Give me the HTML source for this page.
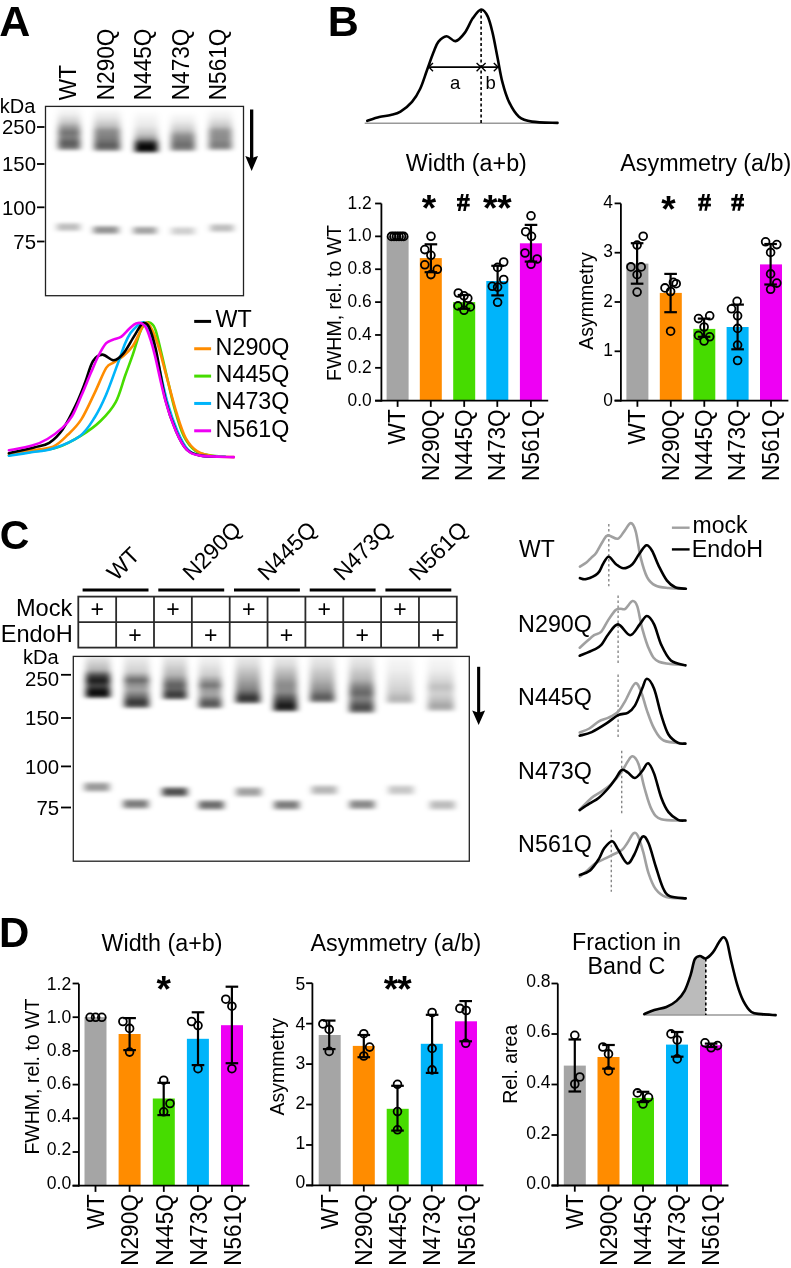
<!DOCTYPE html>
<html><head><meta charset="utf-8"><style>
html,body{margin:0;padding:0;background:#fff;width:791px;height:1268px;overflow:hidden}
svg{display:block;will-change:transform;font-family:"Liberation Sans", sans-serif}
</style></head><body>
<svg width="791" height="1268" viewBox="0 0 791 1268">
<defs>
<filter id="b12" x="-50%" y="-50%" width="200%" height="200%"><feGaussianBlur stdDeviation="1.2"/></filter>
<filter id="b16" x="-50%" y="-50%" width="200%" height="200%"><feGaussianBlur stdDeviation="1.6"/></filter>
<filter id="b25" x="-50%" y="-50%" width="200%" height="200%"><feGaussianBlur stdDeviation="2.5"/></filter>
<linearGradient id="g0" x1="0" y1="0" x2="0" y2="1"><stop offset="0.0000" stop-color="#000" stop-opacity="0"/><stop offset="0.1739" stop-color="#000" stop-opacity="0.06"/><stop offset="0.3478" stop-color="#000" stop-opacity="0.2"/><stop offset="0.4783" stop-color="#000" stop-opacity="0.42"/><stop offset="0.5761" stop-color="#000" stop-opacity="0.55"/><stop offset="0.6739" stop-color="#000" stop-opacity="0.5"/><stop offset="0.8152" stop-color="#000" stop-opacity="0.65"/><stop offset="0.9130" stop-color="#000" stop-opacity="0.55"/><stop offset="0.9783" stop-color="#000" stop-opacity="0.05"/><stop offset="1.0000" stop-color="#000" stop-opacity="0"/></linearGradient><linearGradient id="g1" x1="0" y1="0" x2="0" y2="1"><stop offset="0.0000" stop-color="#000" stop-opacity="0"/><stop offset="0.2222" stop-color="#000" stop-opacity="0.1"/><stop offset="0.4000" stop-color="#000" stop-opacity="0.25"/><stop offset="0.5111" stop-color="#000" stop-opacity="0.45"/><stop offset="0.6444" stop-color="#000" stop-opacity="0.5"/><stop offset="0.7333" stop-color="#000" stop-opacity="0.55"/><stop offset="0.8333" stop-color="#000" stop-opacity="0.65"/><stop offset="0.9111" stop-color="#000" stop-opacity="0.55"/><stop offset="0.9778" stop-color="#000" stop-opacity="0.05"/><stop offset="1.0000" stop-color="#000" stop-opacity="0"/></linearGradient><linearGradient id="g2" x1="0" y1="0" x2="0" y2="1"><stop offset="0.0000" stop-color="#000" stop-opacity="0"/><stop offset="0.3371" stop-color="#000" stop-opacity="0.08"/><stop offset="0.5393" stop-color="#000" stop-opacity="0.22"/><stop offset="0.6517" stop-color="#000" stop-opacity="0.42"/><stop offset="0.7416" stop-color="#000" stop-opacity="0.85"/><stop offset="0.8315" stop-color="#000" stop-opacity="1.0"/><stop offset="0.9101" stop-color="#000" stop-opacity="0.92"/><stop offset="0.9775" stop-color="#000" stop-opacity="0.1"/><stop offset="1.0000" stop-color="#000" stop-opacity="0"/></linearGradient><linearGradient id="g3" x1="0" y1="0" x2="0" y2="1"><stop offset="0.0000" stop-color="#000" stop-opacity="0"/><stop offset="0.2439" stop-color="#000" stop-opacity="0.08"/><stop offset="0.4390" stop-color="#000" stop-opacity="0.22"/><stop offset="0.5854" stop-color="#000" stop-opacity="0.45"/><stop offset="0.6829" stop-color="#000" stop-opacity="0.5"/><stop offset="0.8049" stop-color="#000" stop-opacity="0.58"/><stop offset="0.9024" stop-color="#000" stop-opacity="0.5"/><stop offset="0.9756" stop-color="#000" stop-opacity="0.05"/><stop offset="1.0000" stop-color="#000" stop-opacity="0"/></linearGradient><linearGradient id="g4" x1="0" y1="0" x2="0" y2="1"><stop offset="0.0000" stop-color="#000" stop-opacity="0"/><stop offset="0.2273" stop-color="#000" stop-opacity="0.08"/><stop offset="0.4091" stop-color="#000" stop-opacity="0.22"/><stop offset="0.5227" stop-color="#000" stop-opacity="0.42"/><stop offset="0.6364" stop-color="#000" stop-opacity="0.45"/><stop offset="0.7273" stop-color="#000" stop-opacity="0.45"/><stop offset="0.8409" stop-color="#000" stop-opacity="0.52"/><stop offset="0.9091" stop-color="#000" stop-opacity="0.45"/><stop offset="0.9773" stop-color="#000" stop-opacity="0.05"/><stop offset="1.0000" stop-color="#000" stop-opacity="0"/></linearGradient><linearGradient id="g5" x1="0" y1="0" x2="0" y2="1"><stop offset="0.0000" stop-color="#000" stop-opacity="0"/><stop offset="0.2500" stop-color="#000" stop-opacity="0.2295"/><stop offset="0.5000" stop-color="#000" stop-opacity="0.27"/><stop offset="0.7500" stop-color="#000" stop-opacity="0.2295"/><stop offset="1.0000" stop-color="#000" stop-opacity="0"/></linearGradient><linearGradient id="g6" x1="0" y1="0" x2="0" y2="1"><stop offset="0.0000" stop-color="#000" stop-opacity="0"/><stop offset="0.2500" stop-color="#000" stop-opacity="0.3825"/><stop offset="0.5000" stop-color="#000" stop-opacity="0.45"/><stop offset="0.7500" stop-color="#000" stop-opacity="0.3825"/><stop offset="1.0000" stop-color="#000" stop-opacity="0"/></linearGradient><linearGradient id="g7" x1="0" y1="0" x2="0" y2="1"><stop offset="0.0000" stop-color="#000" stop-opacity="0"/><stop offset="0.2500" stop-color="#000" stop-opacity="0.323"/><stop offset="0.5000" stop-color="#000" stop-opacity="0.38"/><stop offset="0.7500" stop-color="#000" stop-opacity="0.323"/><stop offset="1.0000" stop-color="#000" stop-opacity="0"/></linearGradient><linearGradient id="g8" x1="0" y1="0" x2="0" y2="1"><stop offset="0.0000" stop-color="#000" stop-opacity="0"/><stop offset="0.2500" stop-color="#000" stop-opacity="0.17"/><stop offset="0.5000" stop-color="#000" stop-opacity="0.2"/><stop offset="0.7500" stop-color="#000" stop-opacity="0.17"/><stop offset="1.0000" stop-color="#000" stop-opacity="0"/></linearGradient><linearGradient id="g9" x1="0" y1="0" x2="0" y2="1"><stop offset="0.0000" stop-color="#000" stop-opacity="0"/><stop offset="0.2500" stop-color="#000" stop-opacity="0.2295"/><stop offset="0.5000" stop-color="#000" stop-opacity="0.27"/><stop offset="0.7500" stop-color="#000" stop-opacity="0.2295"/><stop offset="1.0000" stop-color="#000" stop-opacity="0"/></linearGradient><linearGradient id="g10" x1="0" y1="0" x2="0" y2="1"><stop offset="0.0000" stop-color="#000" stop-opacity="0.098"/><stop offset="0.1163" stop-color="#000" stop-opacity="0.163"/><stop offset="0.3023" stop-color="#000" stop-opacity="0.293"/><stop offset="0.4419" stop-color="#000" stop-opacity="0.75"/><stop offset="0.5465" stop-color="#000" stop-opacity="0.9"/><stop offset="0.6744" stop-color="#000" stop-opacity="0.72"/><stop offset="0.8140" stop-color="#000" stop-opacity="0.97"/><stop offset="0.9070" stop-color="#000" stop-opacity="0.9"/><stop offset="0.9767" stop-color="#000" stop-opacity="0.05"/><stop offset="1.0000" stop-color="#000" stop-opacity="0.0"/></linearGradient><linearGradient id="g11" x1="0" y1="0" x2="0" y2="1"><stop offset="0.0000" stop-color="#000" stop-opacity="0.065"/><stop offset="0.1509" stop-color="#000" stop-opacity="0.13"/><stop offset="0.2830" stop-color="#000" stop-opacity="0.195"/><stop offset="0.4434" stop-color="#000" stop-opacity="0.6"/><stop offset="0.5094" stop-color="#000" stop-opacity="0.45"/><stop offset="0.6226" stop-color="#000" stop-opacity="0.35"/><stop offset="0.7358" stop-color="#000" stop-opacity="0.55"/><stop offset="0.8491" stop-color="#000" stop-opacity="0.8"/><stop offset="0.9245" stop-color="#000" stop-opacity="0.7"/><stop offset="0.9811" stop-color="#000" stop-opacity="0.05"/><stop offset="1.0000" stop-color="#000" stop-opacity="0.0"/></linearGradient><linearGradient id="g12" x1="0" y1="0" x2="0" y2="1"><stop offset="0.0000" stop-color="#000" stop-opacity="0.078"/><stop offset="0.1798" stop-color="#000" stop-opacity="0.163"/><stop offset="0.4045" stop-color="#000" stop-opacity="0.293"/><stop offset="0.6157" stop-color="#000" stop-opacity="0.62"/><stop offset="0.7191" stop-color="#000" stop-opacity="0.6"/><stop offset="0.8360" stop-color="#000" stop-opacity="0.78"/><stop offset="0.9101" stop-color="#000" stop-opacity="0.7"/><stop offset="0.9775" stop-color="#000" stop-opacity="0.05"/><stop offset="1.0000" stop-color="#000" stop-opacity="0.0"/></linearGradient><linearGradient id="g13" x1="0" y1="0" x2="0" y2="1"><stop offset="0.0000" stop-color="#000" stop-opacity="0.039"/><stop offset="0.1495" stop-color="#000" stop-opacity="0.098"/><stop offset="0.3364" stop-color="#000" stop-opacity="0.195"/><stop offset="0.5308" stop-color="#000" stop-opacity="0.55"/><stop offset="0.6168" stop-color="#000" stop-opacity="0.38"/><stop offset="0.7103" stop-color="#000" stop-opacity="0.35"/><stop offset="0.8598" stop-color="#000" stop-opacity="0.68"/><stop offset="0.9252" stop-color="#000" stop-opacity="0.6"/><stop offset="0.9813" stop-color="#000" stop-opacity="0.05"/><stop offset="1.0000" stop-color="#000" stop-opacity="0.0"/></linearGradient><linearGradient id="g14" x1="0" y1="0" x2="0" y2="1"><stop offset="0.0000" stop-color="#000" stop-opacity="0.078"/><stop offset="0.1649" stop-color="#000" stop-opacity="0.143"/><stop offset="0.4742" stop-color="#000" stop-opacity="0.35"/><stop offset="0.6804" stop-color="#000" stop-opacity="0.5"/><stop offset="0.8454" stop-color="#000" stop-opacity="0.82"/><stop offset="0.9175" stop-color="#000" stop-opacity="0.7"/><stop offset="0.9794" stop-color="#000" stop-opacity="0.05"/><stop offset="1.0000" stop-color="#000" stop-opacity="0.0"/></linearGradient><linearGradient id="g15" x1="0" y1="0" x2="0" y2="1"><stop offset="0.0000" stop-color="#000" stop-opacity="0.078"/><stop offset="0.1416" stop-color="#000" stop-opacity="0.143"/><stop offset="0.3717" stop-color="#000" stop-opacity="0.35"/><stop offset="0.4779" stop-color="#000" stop-opacity="0.45"/><stop offset="0.6195" stop-color="#000" stop-opacity="0.45"/><stop offset="0.7434" stop-color="#000" stop-opacity="0.7"/><stop offset="0.8655" stop-color="#000" stop-opacity="0.92"/><stop offset="0.9292" stop-color="#000" stop-opacity="0.8"/><stop offset="0.9823" stop-color="#000" stop-opacity="0.05"/><stop offset="1.0000" stop-color="#000" stop-opacity="0.0"/></linearGradient><linearGradient id="g16" x1="0" y1="0" x2="0" y2="1"><stop offset="0.0000" stop-color="#000" stop-opacity="0.078"/><stop offset="0.1684" stop-color="#000" stop-opacity="0.13"/><stop offset="0.4842" stop-color="#000" stop-opacity="0.3"/><stop offset="0.6947" stop-color="#000" stop-opacity="0.45"/><stop offset="0.8463" stop-color="#000" stop-opacity="0.66"/><stop offset="0.9158" stop-color="#000" stop-opacity="0.55"/><stop offset="0.9789" stop-color="#000" stop-opacity="0.05"/><stop offset="1.0000" stop-color="#000" stop-opacity="0.0"/></linearGradient><linearGradient id="g17" x1="0" y1="0" x2="0" y2="1"><stop offset="0.0000" stop-color="#000" stop-opacity="0.078"/><stop offset="0.1379" stop-color="#000" stop-opacity="0.13"/><stop offset="0.3966" stop-color="#000" stop-opacity="0.3"/><stop offset="0.5172" stop-color="#000" stop-opacity="0.5"/><stop offset="0.6172" stop-color="#000" stop-opacity="0.6"/><stop offset="0.7241" stop-color="#000" stop-opacity="0.48"/><stop offset="0.8672" stop-color="#000" stop-opacity="0.72"/><stop offset="0.9310" stop-color="#000" stop-opacity="0.6"/><stop offset="0.9828" stop-color="#000" stop-opacity="0.05"/><stop offset="1.0000" stop-color="#000" stop-opacity="0.0"/></linearGradient><linearGradient id="g18" x1="0" y1="0" x2="0" y2="1"><stop offset="0.0000" stop-color="#000" stop-opacity="0.026"/><stop offset="0.2680" stop-color="#000" stop-opacity="0.065"/><stop offset="0.5773" stop-color="#000" stop-opacity="0.15"/><stop offset="0.7216" stop-color="#000" stop-opacity="0.2"/><stop offset="0.8577" stop-color="#000" stop-opacity="0.3"/><stop offset="0.9175" stop-color="#000" stop-opacity="0.25"/><stop offset="0.9794" stop-color="#000" stop-opacity="0.03"/><stop offset="1.0000" stop-color="#000" stop-opacity="0.0"/></linearGradient><linearGradient id="g19" x1="0" y1="0" x2="0" y2="1"><stop offset="0.0000" stop-color="#000" stop-opacity="0.026"/><stop offset="0.2321" stop-color="#000" stop-opacity="0.065"/><stop offset="0.4107" stop-color="#000" stop-opacity="0.15"/><stop offset="0.5357" stop-color="#000" stop-opacity="0.25"/><stop offset="0.6607" stop-color="#000" stop-opacity="0.18"/><stop offset="0.7679" stop-color="#000" stop-opacity="0.25"/><stop offset="0.8732" stop-color="#000" stop-opacity="0.36"/><stop offset="0.9286" stop-color="#000" stop-opacity="0.3"/><stop offset="0.9821" stop-color="#000" stop-opacity="0.03"/><stop offset="1.0000" stop-color="#000" stop-opacity="0.0"/></linearGradient><linearGradient id="g20" x1="0" y1="0" x2="0" y2="1"><stop offset="0.0000" stop-color="#000" stop-opacity="0"/><stop offset="0.2500" stop-color="#000" stop-opacity="0.3375"/><stop offset="0.5000" stop-color="#000" stop-opacity="0.4275"/><stop offset="0.7500" stop-color="#000" stop-opacity="0.3375"/><stop offset="1.0000" stop-color="#000" stop-opacity="0"/></linearGradient><linearGradient id="g21" x1="0" y1="0" x2="0" y2="1"><stop offset="0.0000" stop-color="#000" stop-opacity="0"/><stop offset="0.2500" stop-color="#000" stop-opacity="0.43499999999999994"/><stop offset="0.5000" stop-color="#000" stop-opacity="0.5509999999999999"/><stop offset="0.7500" stop-color="#000" stop-opacity="0.43499999999999994"/><stop offset="1.0000" stop-color="#000" stop-opacity="0"/></linearGradient><linearGradient id="g22" x1="0" y1="0" x2="0" y2="1"><stop offset="0.0000" stop-color="#000" stop-opacity="0"/><stop offset="0.2500" stop-color="#000" stop-opacity="0.585"/><stop offset="0.5000" stop-color="#000" stop-opacity="0.741"/><stop offset="0.7500" stop-color="#000" stop-opacity="0.585"/><stop offset="1.0000" stop-color="#000" stop-opacity="0"/></linearGradient><linearGradient id="g23" x1="0" y1="0" x2="0" y2="1"><stop offset="0.0000" stop-color="#000" stop-opacity="0"/><stop offset="0.2500" stop-color="#000" stop-opacity="0.48750000000000004"/><stop offset="0.5000" stop-color="#000" stop-opacity="0.6174999999999999"/><stop offset="0.7500" stop-color="#000" stop-opacity="0.48750000000000004"/><stop offset="1.0000" stop-color="#000" stop-opacity="0"/></linearGradient><linearGradient id="g24" x1="0" y1="0" x2="0" y2="1"><stop offset="0.0000" stop-color="#000" stop-opacity="0"/><stop offset="0.2500" stop-color="#000" stop-opacity="0.315"/><stop offset="0.5000" stop-color="#000" stop-opacity="0.39899999999999997"/><stop offset="0.7500" stop-color="#000" stop-opacity="0.315"/><stop offset="1.0000" stop-color="#000" stop-opacity="0"/></linearGradient><linearGradient id="g25" x1="0" y1="0" x2="0" y2="1"><stop offset="0.0000" stop-color="#000" stop-opacity="0"/><stop offset="0.2500" stop-color="#000" stop-opacity="0.43499999999999994"/><stop offset="0.5000" stop-color="#000" stop-opacity="0.5509999999999999"/><stop offset="0.7500" stop-color="#000" stop-opacity="0.43499999999999994"/><stop offset="1.0000" stop-color="#000" stop-opacity="0"/></linearGradient><linearGradient id="g26" x1="0" y1="0" x2="0" y2="1"><stop offset="0.0000" stop-color="#000" stop-opacity="0"/><stop offset="0.2500" stop-color="#000" stop-opacity="0.24"/><stop offset="0.5000" stop-color="#000" stop-opacity="0.304"/><stop offset="0.7500" stop-color="#000" stop-opacity="0.24"/><stop offset="1.0000" stop-color="#000" stop-opacity="0"/></linearGradient><linearGradient id="g27" x1="0" y1="0" x2="0" y2="1"><stop offset="0.0000" stop-color="#000" stop-opacity="0"/><stop offset="0.2500" stop-color="#000" stop-opacity="0.39"/><stop offset="0.5000" stop-color="#000" stop-opacity="0.494"/><stop offset="0.7500" stop-color="#000" stop-opacity="0.39"/><stop offset="1.0000" stop-color="#000" stop-opacity="0"/></linearGradient><linearGradient id="g28" x1="0" y1="0" x2="0" y2="1"><stop offset="0.0000" stop-color="#000" stop-opacity="0"/><stop offset="0.2500" stop-color="#000" stop-opacity="0.1875"/><stop offset="0.5000" stop-color="#000" stop-opacity="0.2375"/><stop offset="0.7500" stop-color="#000" stop-opacity="0.1875"/><stop offset="1.0000" stop-color="#000" stop-opacity="0"/></linearGradient><linearGradient id="g29" x1="0" y1="0" x2="0" y2="1"><stop offset="0.0000" stop-color="#000" stop-opacity="0"/><stop offset="0.2500" stop-color="#000" stop-opacity="0.22499999999999998"/><stop offset="0.5000" stop-color="#000" stop-opacity="0.285"/><stop offset="0.7500" stop-color="#000" stop-opacity="0.22499999999999998"/><stop offset="1.0000" stop-color="#000" stop-opacity="0"/></linearGradient>
<filter id="lb" x="-50%" y="-50%" width="200%" height="200%"><feGaussianBlur stdDeviation="3.1 1.7"/></filter>
<linearGradient id="sm" x1="0" y1="0" x2="0" y2="1"><stop offset="0" stop-color="#000" stop-opacity="0"/><stop offset="1" stop-color="#000" stop-opacity="1"/></linearGradient>
</defs>
<rect width="791" height="1268" fill="#fff"/>
<text transform="translate(-0.70,35.70)" font-size="43" text-anchor="start" font-weight="bold" fill="#000">A</text>
<text transform="translate(327.80,35.80)" font-size="43" text-anchor="start" font-weight="bold" fill="#000">B</text>
<text transform="translate(-0.20,548.60)" font-size="41" text-anchor="start" font-weight="bold" fill="#000">C</text>
<text transform="translate(-1.10,947.10)" font-size="42" text-anchor="start" font-weight="bold" fill="#000">D</text>
<rect x="58.20" y="106.00" width="22.00" height="46.00" fill="url(#g0)" filter="url(#lb)"/>
<rect x="94.20" y="108.00" width="26.00" height="45.00" fill="url(#g1)" filter="url(#lb)"/>
<rect x="134.80" y="110.00" width="23.00" height="44.50" fill="url(#g2)" filter="url(#lb)"/>
<rect x="170.90" y="112.00" width="24.00" height="41.00" fill="url(#g3)" filter="url(#lb)"/>
<rect x="208.80" y="108.00" width="23.00" height="44.00" fill="url(#g4)" filter="url(#lb)"/>
<rect x="57.00" y="222.00" width="23.00" height="10.00" fill="url(#g5)" filter="url(#lb)"/>
<rect x="93.50" y="225.00" width="25.00" height="10.00" fill="url(#g6)" filter="url(#lb)"/>
<rect x="133.50" y="225.50" width="23.00" height="10.00" fill="url(#g7)" filter="url(#lb)"/>
<rect x="171.50" y="226.00" width="23.00" height="10.00" fill="url(#g8)" filter="url(#lb)"/>
<rect x="210.50" y="223.00" width="23.00" height="10.00" fill="url(#g9)" filter="url(#lb)"/>
<rect x="45.5" y="106.4" width="198" height="189.3" fill="none" stroke="#222" stroke-width="1.3"/>
<line x1="37.00" y1="127.00" x2="44.50" y2="127.00" stroke="#000" stroke-width="1.8"/>
<text transform="translate(36.00,134.20)" font-size="20.4" text-anchor="end" fill="#000">250</text>
<line x1="37.00" y1="164.00" x2="44.50" y2="164.00" stroke="#000" stroke-width="1.8"/>
<text transform="translate(36.00,171.20)" font-size="20.4" text-anchor="end" fill="#000">150</text>
<line x1="37.00" y1="207.30" x2="44.50" y2="207.30" stroke="#000" stroke-width="1.8"/>
<text transform="translate(36.00,214.50)" font-size="20.4" text-anchor="end" fill="#000">100</text>
<line x1="37.00" y1="241.50" x2="44.50" y2="241.50" stroke="#000" stroke-width="1.8"/>
<text transform="translate(36.00,248.70)" font-size="20.4" text-anchor="end" fill="#000">75</text>
<text transform="translate(-0.20,113.20)" font-size="20" text-anchor="start" fill="#000">kDa</text>
<rect x="250.00" y="109.50" width="3.30" height="50.00" fill="#000"/>
<polygon points="245.3,155.9 251.65,158.2 258.0,155.9 251.65,171.0" fill="#000"/>
<text transform="translate(76.40,100.20) rotate(-90) scale(0.95,1)" font-size="23.8" text-anchor="start" fill="#000">WT</text>
<text transform="translate(113.60,100.20) rotate(-90) scale(0.95,1)" font-size="23.8" text-anchor="start" fill="#000">N290Q</text>
<text transform="translate(151.10,100.20) rotate(-90) scale(0.95,1)" font-size="23.8" text-anchor="start" fill="#000">N445Q</text>
<text transform="translate(188.60,100.20) rotate(-90) scale(0.95,1)" font-size="23.8" text-anchor="start" fill="#000">N473Q</text>
<text transform="translate(226.10,100.20) rotate(-90) scale(0.95,1)" font-size="23.8" text-anchor="start" fill="#000">N561Q</text>
<path d="M8.90,455.20 C12.42,454.67 22.00,453.27 30.00,452.00 C38.00,450.73 48.32,450.38 56.90,447.60 C65.48,444.82 74.23,439.73 81.50,435.30 C88.77,430.87 94.80,426.53 100.50,421.00 C106.20,415.47 111.58,409.68 115.70,402.10 C119.82,394.52 122.35,383.40 125.20,375.50 C128.05,367.60 130.67,360.95 132.80,354.70 C134.93,348.45 136.63,342.12 138.00,338.00 C139.37,333.88 139.83,332.42 141.00,330.00 C142.17,327.58 143.75,324.80 145.00,323.50 C146.25,322.20 147.33,322.12 148.50,322.20 C149.67,322.28 150.68,322.23 152.00,324.00 C153.32,325.77 154.15,325.02 156.40,332.80 C158.65,340.58 162.47,358.07 165.50,370.70 C168.53,383.33 171.57,397.73 174.60,408.60 C177.63,419.47 180.17,428.82 183.70,435.90 C187.23,442.98 191.25,447.82 195.80,451.10 C200.35,454.38 206.13,454.70 211.00,455.60 C215.87,456.50 222.67,456.35 225.00,456.50" fill="none" stroke="#46DC00" stroke-width="2.6" stroke-linejoin="round" stroke-linecap="round"/>
<path d="M8.90,453.80 C12.42,453.25 22.63,451.70 30.00,450.50 C37.37,449.30 46.72,449.30 53.10,446.60 C59.48,443.90 63.57,438.88 68.30,434.30 C73.03,429.72 77.08,426.05 81.50,419.10 C85.92,412.15 90.68,401.13 94.80,392.60 C98.92,384.07 103.03,372.92 106.20,367.90 C109.37,362.88 110.95,364.48 113.80,362.50 C116.65,360.52 120.13,358.75 123.30,356.00 C126.47,353.25 130.18,349.67 132.80,346.00 C135.42,342.33 137.05,337.78 139.00,334.00 C140.95,330.22 142.67,324.63 144.50,323.30 C146.33,321.97 147.75,322.38 150.00,326.00 C152.25,329.62 155.08,336.00 158.00,345.00 C160.92,354.00 164.40,368.67 167.50,380.00 C170.60,391.33 173.57,403.33 176.60,413.00 C179.63,422.67 182.30,431.67 185.70,438.00 C189.10,444.33 192.62,448.00 197.00,451.00 C201.38,454.00 205.87,454.98 212.00,456.00 C218.13,457.02 230.17,456.92 233.80,457.10" fill="none" stroke="#FF8C00" stroke-width="2.6" stroke-linejoin="round" stroke-linecap="round"/>
<path d="M8.90,455.80 C12.42,455.25 22.63,453.72 30.00,452.50 C37.37,451.28 44.82,451.22 53.10,448.50 C61.38,445.78 72.75,441.42 79.70,436.20 C86.65,430.98 90.38,424.15 94.80,417.20 C99.22,410.25 102.40,403.35 106.20,394.50 C110.00,385.65 114.43,372.63 117.60,364.10 C120.77,355.57 123.05,348.48 125.20,343.30 C127.35,338.12 128.53,335.88 130.50,333.00 C132.47,330.12 135.25,327.67 137.00,326.00 C138.75,324.33 139.83,323.58 141.00,323.00 C142.17,322.42 143.00,322.08 144.00,322.50 C145.00,322.92 145.83,323.25 147.00,325.50 C148.17,327.75 149.43,331.00 151.00,336.00 C152.57,341.00 153.73,344.67 156.40,355.50 C159.07,366.33 163.47,388.35 167.00,401.00 C170.53,413.65 174.10,423.30 177.60,431.40 C181.10,439.50 184.02,445.57 188.00,449.60 C191.98,453.63 195.33,454.40 201.50,455.60 C207.67,456.80 221.08,456.60 225.00,456.80" fill="none" stroke="#00B4FA" stroke-width="2.6" stroke-linejoin="round" stroke-linecap="round"/>
<path d="M8.90,453.20 C13.10,452.25 27.37,449.23 34.10,447.50 C40.83,445.77 44.55,445.80 49.30,442.80 C54.05,439.80 58.17,435.83 62.60,429.50 C67.03,423.17 72.12,412.72 75.90,404.80 C79.68,396.88 82.47,389.27 85.30,382.00 C88.13,374.73 90.05,365.77 92.90,361.20 C95.75,356.63 98.92,354.75 102.40,354.60 C105.88,354.45 110.32,360.47 113.80,360.30 C117.28,360.13 120.13,357.25 123.30,353.60 C126.47,349.95 129.97,342.98 132.80,338.40 C135.63,333.82 138.52,328.67 140.30,326.10 C142.08,323.53 142.05,322.85 143.50,323.00 C144.95,323.15 146.92,322.50 149.00,327.00 C151.08,331.50 153.25,337.83 156.00,350.00 C158.75,362.17 162.17,386.50 165.50,400.00 C168.83,413.50 172.47,422.73 176.00,431.00 C179.53,439.27 182.63,445.50 186.70,449.60 C190.77,453.70 195.68,454.45 200.40,455.60 C205.12,456.75 212.57,456.35 215.00,456.50" fill="none" stroke="#000" stroke-width="2.6" stroke-linejoin="round" stroke-linecap="round"/>
<path d="M8.90,450.30 C12.78,449.52 25.78,447.48 32.20,445.60 C38.62,443.72 42.33,442.00 47.40,439.00 C52.47,436.00 58.48,431.40 62.60,427.60 C66.72,423.80 68.95,421.58 72.10,416.20 C75.25,410.82 78.35,402.57 81.50,395.30 C84.65,388.03 88.15,379.23 91.00,372.60 C93.85,365.97 96.07,360.40 98.60,355.50 C101.13,350.60 103.67,345.88 106.20,343.20 C108.73,340.52 111.27,340.50 113.80,339.40 C116.33,338.30 118.87,338.33 121.40,336.60 C123.93,334.87 126.90,331.00 129.00,329.00 C131.10,327.00 132.50,325.60 134.00,324.60 C135.50,323.60 136.67,323.17 138.00,323.00 C139.33,322.83 140.67,322.85 142.00,323.60 C143.33,324.35 144.67,325.10 146.00,327.50 C147.33,329.90 148.52,333.33 150.00,338.00 C151.48,342.67 152.32,345.00 154.90,355.50 C157.48,366.00 161.97,388.35 165.50,401.00 C169.03,413.65 172.57,423.30 176.10,431.40 C179.63,439.50 182.65,445.57 186.70,449.60 C190.75,453.63 192.55,454.35 200.40,455.60 C208.25,456.85 228.23,456.85 233.80,457.10" fill="none" stroke="#EE00F4" stroke-width="2.6" stroke-linejoin="round" stroke-linecap="round"/>
<line x1="194.20" y1="321.40" x2="211.10" y2="321.40" stroke="#000" stroke-width="3"/>
<text transform="translate(215.60,327.30)" font-size="23.3" text-anchor="start" fill="#000">WT</text>
<line x1="194.20" y1="348.75" x2="211.10" y2="348.75" stroke="#FF8C00" stroke-width="3"/>
<text transform="translate(215.60,354.60)" font-size="23.3" text-anchor="start" fill="#000">N290Q</text>
<line x1="194.20" y1="376.10" x2="211.10" y2="376.10" stroke="#46DC00" stroke-width="3"/>
<text transform="translate(215.60,381.90)" font-size="23.3" text-anchor="start" fill="#000">N445Q</text>
<line x1="194.20" y1="403.45" x2="211.10" y2="403.45" stroke="#00B4FA" stroke-width="3"/>
<text transform="translate(215.60,409.20)" font-size="23.3" text-anchor="start" fill="#000">N473Q</text>
<line x1="194.20" y1="430.80" x2="211.10" y2="430.80" stroke="#EE00F4" stroke-width="3"/>
<text transform="translate(215.60,436.50)" font-size="23.3" text-anchor="start" fill="#000">N561Q</text>
<line x1="364.7" y1="123.3" x2="557.5" y2="123.3" stroke="#999" stroke-width="1.5"/>
<path d="M367.30,120.80 C369.28,120.17 375.30,117.97 379.20,117.00 C383.10,116.03 387.15,115.88 390.70,115.00 C394.25,114.12 396.95,113.88 400.50,111.70 C404.05,109.52 408.72,105.73 412.00,101.90 C415.28,98.07 417.73,93.90 420.20,88.70 C422.67,83.50 424.60,76.72 426.80,70.70 C429.00,64.68 431.48,57.40 433.40,52.60 C435.32,47.80 436.10,44.63 438.30,41.90 C440.50,39.17 443.72,36.33 446.60,36.20 C449.48,36.07 452.58,41.65 455.60,41.10 C458.62,40.55 461.82,36.73 464.70,32.90 C467.58,29.07 470.17,22.00 472.90,18.10 C475.63,14.20 478.63,9.78 481.10,9.50 C483.57,9.22 485.78,12.50 487.70,16.40 C489.62,20.30 490.97,26.05 492.60,32.90 C494.23,39.75 495.87,49.28 497.50,57.50 C499.13,65.72 500.48,74.80 502.40,82.20 C504.32,89.60 506.25,96.15 509.00,101.90 C511.75,107.65 515.07,113.42 518.90,116.70 C522.73,119.98 525.57,120.57 532.00,121.60 C538.43,122.63 553.25,122.68 557.50,122.90" fill="none" stroke="#000" stroke-width="2.6" stroke-linejoin="round" stroke-linecap="round"/>
<line x1="481.10" y1="10.00" x2="481.10" y2="123.00" stroke="#000" stroke-width="1.6" stroke-dasharray="3,2.5"/>
<line x1="428.50" y1="67.10" x2="498.30" y2="67.10" stroke="#000" stroke-width="1.6"/>
<polyline points="433.00,62.90 428.80,67.10 433.00,71.30" fill="none" stroke="#000" stroke-width="1.4"/>
<polyline points="476.60,62.90 480.80,67.10 476.60,71.30" fill="none" stroke="#000" stroke-width="1.4"/>
<polyline points="485.60,62.90 481.40,67.10 485.60,71.30" fill="none" stroke="#000" stroke-width="1.4"/>
<polyline points="493.80,62.90 498.00,67.10 493.80,71.30" fill="none" stroke="#000" stroke-width="1.4"/>
<text transform="translate(449.90,88.70)" font-size="18.5" text-anchor="start" fill="#000">a</text>
<text transform="translate(485.60,88.70)" font-size="18.5" text-anchor="start" fill="#000">b</text>
<rect x="386.60" y="236.40" width="22.00" height="164.30" fill="#A5A5A5"/>
<rect x="419.80" y="258.10" width="22.00" height="142.60" fill="#FF8C00"/>
<rect x="453.20" y="302.10" width="22.00" height="98.60" fill="#46DC00"/>
<rect x="486.30" y="281.00" width="22.00" height="119.70" fill="#00B4FA"/>
<rect x="519.90" y="243.30" width="22.00" height="157.40" fill="#EE00F4"/>
<line x1="381.40" y1="203.50" x2="381.40" y2="401.60" stroke="#000" stroke-width="1.8"/>
<line x1="375.10" y1="400.70" x2="548.20" y2="400.70" stroke="#000" stroke-width="1.8"/>
<line x1="375.10" y1="400.70" x2="381.40" y2="400.70" stroke="#000" stroke-width="1.8"/>
<text transform="translate(371.70,405.50) scale(0.95,1)" font-size="18.3" text-anchor="end" fill="#000">0.0</text>
<line x1="375.10" y1="367.83" x2="381.40" y2="367.83" stroke="#000" stroke-width="1.8"/>
<text transform="translate(371.70,372.67) scale(0.95,1)" font-size="18.3" text-anchor="end" fill="#000">0.2</text>
<line x1="375.10" y1="334.97" x2="381.40" y2="334.97" stroke="#000" stroke-width="1.8"/>
<text transform="translate(371.70,339.83) scale(0.95,1)" font-size="18.3" text-anchor="end" fill="#000">0.4</text>
<line x1="375.10" y1="302.10" x2="381.40" y2="302.10" stroke="#000" stroke-width="1.8"/>
<text transform="translate(371.70,307.00) scale(0.95,1)" font-size="18.3" text-anchor="end" fill="#000">0.6</text>
<line x1="375.10" y1="269.24" x2="381.40" y2="269.24" stroke="#000" stroke-width="1.8"/>
<text transform="translate(371.70,274.16) scale(0.95,1)" font-size="18.3" text-anchor="end" fill="#000">0.8</text>
<line x1="375.10" y1="236.37" x2="381.40" y2="236.37" stroke="#000" stroke-width="1.8"/>
<text transform="translate(371.70,241.33) scale(0.95,1)" font-size="18.3" text-anchor="end" fill="#000">1.0</text>
<line x1="375.10" y1="203.50" x2="381.40" y2="203.50" stroke="#000" stroke-width="1.8"/>
<text transform="translate(371.70,208.50) scale(0.95,1)" font-size="18.3" text-anchor="end" fill="#000">1.2</text>
<line x1="397.60" y1="400.70" x2="397.60" y2="406.90" stroke="#000" stroke-width="1.8"/>
<line x1="430.80" y1="400.70" x2="430.80" y2="406.90" stroke="#000" stroke-width="1.8"/>
<line x1="464.20" y1="400.70" x2="464.20" y2="406.90" stroke="#000" stroke-width="1.8"/>
<line x1="497.30" y1="400.70" x2="497.30" y2="406.90" stroke="#000" stroke-width="1.8"/>
<line x1="530.90" y1="400.70" x2="530.90" y2="406.90" stroke="#000" stroke-width="1.8"/>
<circle cx="391.50" cy="236.40" r="3.9" fill="none" stroke="#000" stroke-width="1.8"/>
<circle cx="394.00" cy="236.40" r="3.9" fill="none" stroke="#000" stroke-width="1.8"/>
<circle cx="396.50" cy="236.40" r="3.9" fill="none" stroke="#000" stroke-width="1.8"/>
<circle cx="399.00" cy="236.40" r="3.9" fill="none" stroke="#000" stroke-width="1.8"/>
<circle cx="401.50" cy="236.40" r="3.9" fill="none" stroke="#000" stroke-width="1.8"/>
<circle cx="403.70" cy="236.40" r="3.9" fill="none" stroke="#000" stroke-width="1.8"/>
<line x1="430.90" y1="244.30" x2="430.90" y2="272.20" stroke="#000" stroke-width="2.2"/>
<line x1="424.60" y1="244.30" x2="437.20" y2="244.30" stroke="#000" stroke-width="2.2"/>
<line x1="424.60" y1="272.20" x2="437.20" y2="272.20" stroke="#000" stroke-width="2.2"/>
<circle cx="431.00" cy="236.30" r="3.9" fill="none" stroke="#000" stroke-width="1.8"/>
<circle cx="424.80" cy="249.60" r="3.9" fill="none" stroke="#000" stroke-width="1.8"/>
<circle cx="430.90" cy="255.30" r="3.9" fill="none" stroke="#000" stroke-width="1.8"/>
<circle cx="424.80" cy="264.80" r="3.9" fill="none" stroke="#000" stroke-width="1.8"/>
<circle cx="437.30" cy="269.30" r="3.9" fill="none" stroke="#000" stroke-width="1.8"/>
<circle cx="430.90" cy="274.60" r="3.9" fill="none" stroke="#000" stroke-width="1.8"/>
<line x1="464.00" y1="295.00" x2="464.00" y2="308.80" stroke="#000" stroke-width="2.2"/>
<line x1="457.70" y1="295.00" x2="470.30" y2="295.00" stroke="#000" stroke-width="2.2"/>
<line x1="457.70" y1="308.80" x2="470.30" y2="308.80" stroke="#000" stroke-width="2.2"/>
<circle cx="458.30" cy="293.00" r="3.9" fill="none" stroke="#000" stroke-width="1.8"/>
<circle cx="464.00" cy="295.80" r="3.9" fill="none" stroke="#000" stroke-width="1.8"/>
<circle cx="467.80" cy="298.30" r="3.9" fill="none" stroke="#000" stroke-width="1.8"/>
<circle cx="458.00" cy="305.90" r="3.9" fill="none" stroke="#000" stroke-width="1.8"/>
<circle cx="470.30" cy="306.90" r="3.9" fill="none" stroke="#000" stroke-width="1.8"/>
<circle cx="464.00" cy="310.30" r="3.9" fill="none" stroke="#000" stroke-width="1.8"/>
<line x1="497.60" y1="265.80" x2="497.60" y2="295.40" stroke="#000" stroke-width="2.2"/>
<line x1="491.30" y1="265.80" x2="503.90" y2="265.80" stroke="#000" stroke-width="2.2"/>
<line x1="491.30" y1="295.40" x2="503.90" y2="295.40" stroke="#000" stroke-width="2.2"/>
<circle cx="503.70" cy="262.00" r="3.9" fill="none" stroke="#000" stroke-width="1.8"/>
<circle cx="497.60" cy="267.40" r="3.9" fill="none" stroke="#000" stroke-width="1.8"/>
<circle cx="503.70" cy="279.50" r="3.9" fill="none" stroke="#000" stroke-width="1.8"/>
<circle cx="492.30" cy="286.30" r="3.9" fill="none" stroke="#000" stroke-width="1.8"/>
<circle cx="497.60" cy="287.10" r="3.9" fill="none" stroke="#000" stroke-width="1.8"/>
<circle cx="497.60" cy="302.30" r="3.9" fill="none" stroke="#000" stroke-width="1.8"/>
<line x1="531.00" y1="224.90" x2="531.00" y2="261.60" stroke="#000" stroke-width="2.2"/>
<line x1="524.70" y1="224.90" x2="537.30" y2="224.90" stroke="#000" stroke-width="2.2"/>
<line x1="524.70" y1="261.60" x2="537.30" y2="261.60" stroke="#000" stroke-width="2.2"/>
<circle cx="531.00" cy="215.80" r="3.9" fill="none" stroke="#000" stroke-width="1.8"/>
<circle cx="525.70" cy="231.70" r="3.9" fill="none" stroke="#000" stroke-width="1.8"/>
<circle cx="531.50" cy="236.30" r="3.9" fill="none" stroke="#000" stroke-width="1.8"/>
<circle cx="525.00" cy="253.00" r="3.9" fill="none" stroke="#000" stroke-width="1.8"/>
<circle cx="537.10" cy="259.00" r="3.9" fill="none" stroke="#000" stroke-width="1.8"/>
<circle cx="531.00" cy="264.30" r="3.9" fill="none" stroke="#000" stroke-width="1.8"/>
<text transform="translate(405.40,409.30) rotate(-90) scale(0.95,1)" font-size="23.8" text-anchor="end" fill="#000">WT</text>
<text transform="translate(438.60,409.30) rotate(-90) scale(0.95,1)" font-size="23.8" text-anchor="end" fill="#000">N290Q</text>
<text transform="translate(472.00,409.30) rotate(-90) scale(0.95,1)" font-size="23.8" text-anchor="end" fill="#000">N445Q</text>
<text transform="translate(505.10,409.30) rotate(-90) scale(0.95,1)" font-size="23.8" text-anchor="end" fill="#000">N473Q</text>
<text transform="translate(538.70,409.30) rotate(-90) scale(0.95,1)" font-size="23.8" text-anchor="end" fill="#000">N561Q</text>
<text transform="translate(405.80,171.00)" font-size="23.3" text-anchor="start" fill="#000">Width (a+b)</text>
<text transform="translate(340.70,303.00) rotate(-90)" font-size="19.5" text-anchor="middle" fill="#000">FWHM, rel. to WT</text>
<text transform="translate(421.87,221.17)" font-size="37" text-anchor="start" font-weight="bold" fill="#000">*</text>
<polygon points="461.10,194.10 463.60,194.10 460.40,210.90 457.90,210.90" fill="#000"/>
<polygon points="466.30,194.10 468.80,194.10 465.70,210.90 463.20,210.90" fill="#000"/>
<polygon points="457.00,198.00 469.70,198.00 469.70,200.70 457.00,200.70" fill="#000"/>
<polygon points="457.00,203.80 469.70,203.80 469.70,206.50 457.00,206.50" fill="#000"/>
<text transform="translate(483.07,221.37)" font-size="37" text-anchor="start" font-weight="bold" fill="#000">*</text>
<text transform="translate(497.27,221.37)" font-size="37" text-anchor="start" font-weight="bold" fill="#000">*</text>
<rect x="626.40" y="263.60" width="22.00" height="137.00" fill="#A5A5A5"/>
<rect x="659.80" y="292.90" width="22.00" height="107.70" fill="#FF8C00"/>
<rect x="693.30" y="328.90" width="22.00" height="71.70" fill="#46DC00"/>
<rect x="726.60" y="327.00" width="22.00" height="73.60" fill="#00B4FA"/>
<rect x="760.00" y="264.40" width="22.00" height="136.20" fill="#EE00F4"/>
<line x1="620.90" y1="203.40" x2="620.90" y2="401.50" stroke="#000" stroke-width="1.8"/>
<line x1="614.60" y1="400.60" x2="788.40" y2="400.60" stroke="#000" stroke-width="1.8"/>
<line x1="614.60" y1="400.60" x2="620.90" y2="400.60" stroke="#000" stroke-width="1.8"/>
<text transform="translate(612.80,405.70) scale(0.95,1)" font-size="18.3" text-anchor="end" fill="#000">0</text>
<line x1="614.60" y1="351.30" x2="620.90" y2="351.30" stroke="#000" stroke-width="1.8"/>
<text transform="translate(612.80,356.25) scale(0.95,1)" font-size="18.3" text-anchor="end" fill="#000">1</text>
<line x1="614.60" y1="302.00" x2="620.90" y2="302.00" stroke="#000" stroke-width="1.8"/>
<text transform="translate(612.80,306.80) scale(0.95,1)" font-size="18.3" text-anchor="end" fill="#000">2</text>
<line x1="614.60" y1="252.70" x2="620.90" y2="252.70" stroke="#000" stroke-width="1.8"/>
<text transform="translate(612.80,257.35) scale(0.95,1)" font-size="18.3" text-anchor="end" fill="#000">3</text>
<line x1="614.60" y1="203.40" x2="620.90" y2="203.40" stroke="#000" stroke-width="1.8"/>
<text transform="translate(612.80,207.90) scale(0.95,1)" font-size="18.3" text-anchor="end" fill="#000">4</text>
<line x1="637.40" y1="400.60" x2="637.40" y2="406.80" stroke="#000" stroke-width="1.8"/>
<line x1="670.80" y1="400.60" x2="670.80" y2="406.80" stroke="#000" stroke-width="1.8"/>
<line x1="704.30" y1="400.60" x2="704.30" y2="406.80" stroke="#000" stroke-width="1.8"/>
<line x1="737.60" y1="400.60" x2="737.60" y2="406.80" stroke="#000" stroke-width="1.8"/>
<line x1="771.00" y1="400.60" x2="771.00" y2="406.80" stroke="#000" stroke-width="1.8"/>
<line x1="637.10" y1="243.20" x2="637.10" y2="283.70" stroke="#000" stroke-width="2.2"/>
<line x1="630.80" y1="243.20" x2="643.40" y2="243.20" stroke="#000" stroke-width="2.2"/>
<line x1="630.80" y1="283.70" x2="643.40" y2="283.70" stroke="#000" stroke-width="2.2"/>
<circle cx="643.20" cy="236.20" r="3.9" fill="none" stroke="#000" stroke-width="1.8"/>
<circle cx="637.10" cy="245.10" r="3.9" fill="none" stroke="#000" stroke-width="1.8"/>
<circle cx="630.90" cy="266.90" r="3.9" fill="none" stroke="#000" stroke-width="1.8"/>
<circle cx="641.20" cy="266.90" r="3.9" fill="none" stroke="#000" stroke-width="1.8"/>
<circle cx="637.10" cy="274.70" r="3.9" fill="none" stroke="#000" stroke-width="1.8"/>
<circle cx="637.10" cy="292.10" r="3.9" fill="none" stroke="#000" stroke-width="1.8"/>
<line x1="670.60" y1="273.90" x2="670.60" y2="312.20" stroke="#000" stroke-width="2.2"/>
<line x1="664.30" y1="273.90" x2="676.90" y2="273.90" stroke="#000" stroke-width="2.2"/>
<line x1="664.30" y1="312.20" x2="676.90" y2="312.20" stroke="#000" stroke-width="2.2"/>
<circle cx="665.00" cy="287.90" r="3.9" fill="none" stroke="#000" stroke-width="1.8"/>
<circle cx="673.40" cy="282.30" r="3.9" fill="none" stroke="#000" stroke-width="1.8"/>
<circle cx="676.20" cy="283.70" r="3.9" fill="none" stroke="#000" stroke-width="1.8"/>
<circle cx="670.60" cy="291.50" r="3.9" fill="none" stroke="#000" stroke-width="1.8"/>
<circle cx="670.60" cy="331.20" r="3.9" fill="none" stroke="#000" stroke-width="1.8"/>
<line x1="704.10" y1="318.60" x2="704.10" y2="336.80" stroke="#000" stroke-width="2.2"/>
<line x1="697.80" y1="318.60" x2="710.40" y2="318.60" stroke="#000" stroke-width="2.2"/>
<line x1="697.80" y1="336.80" x2="710.40" y2="336.80" stroke="#000" stroke-width="2.2"/>
<circle cx="698.50" cy="318.60" r="3.9" fill="none" stroke="#000" stroke-width="1.8"/>
<circle cx="709.70" cy="315.80" r="3.9" fill="none" stroke="#000" stroke-width="1.8"/>
<circle cx="704.10" cy="327.00" r="3.9" fill="none" stroke="#000" stroke-width="1.8"/>
<circle cx="698.50" cy="335.40" r="3.9" fill="none" stroke="#000" stroke-width="1.8"/>
<circle cx="709.70" cy="336.80" r="3.9" fill="none" stroke="#000" stroke-width="1.8"/>
<circle cx="704.10" cy="341.00" r="3.9" fill="none" stroke="#000" stroke-width="1.8"/>
<line x1="737.60" y1="304.60" x2="737.60" y2="349.30" stroke="#000" stroke-width="2.2"/>
<line x1="731.30" y1="304.60" x2="743.90" y2="304.60" stroke="#000" stroke-width="2.2"/>
<line x1="731.30" y1="349.30" x2="743.90" y2="349.30" stroke="#000" stroke-width="2.2"/>
<circle cx="737.10" cy="301.30" r="3.9" fill="none" stroke="#000" stroke-width="1.8"/>
<circle cx="731.50" cy="308.80" r="3.9" fill="none" stroke="#000" stroke-width="1.8"/>
<circle cx="737.60" cy="315.80" r="3.9" fill="none" stroke="#000" stroke-width="1.8"/>
<circle cx="737.60" cy="328.40" r="3.9" fill="none" stroke="#000" stroke-width="1.8"/>
<circle cx="737.60" cy="345.10" r="3.9" fill="none" stroke="#000" stroke-width="1.8"/>
<circle cx="737.60" cy="360.50" r="3.9" fill="none" stroke="#000" stroke-width="1.8"/>
<line x1="770.60" y1="244.00" x2="770.60" y2="284.50" stroke="#000" stroke-width="2.2"/>
<line x1="764.30" y1="244.00" x2="776.90" y2="244.00" stroke="#000" stroke-width="2.2"/>
<line x1="764.30" y1="284.50" x2="776.90" y2="284.50" stroke="#000" stroke-width="2.2"/>
<circle cx="765.60" cy="241.80" r="3.9" fill="none" stroke="#000" stroke-width="1.8"/>
<circle cx="776.80" cy="244.60" r="3.9" fill="none" stroke="#000" stroke-width="1.8"/>
<circle cx="770.60" cy="252.40" r="3.9" fill="none" stroke="#000" stroke-width="1.8"/>
<circle cx="770.60" cy="273.90" r="3.9" fill="none" stroke="#000" stroke-width="1.8"/>
<circle cx="776.80" cy="283.10" r="3.9" fill="none" stroke="#000" stroke-width="1.8"/>
<circle cx="770.60" cy="289.30" r="3.9" fill="none" stroke="#000" stroke-width="1.8"/>
<text transform="translate(645.20,409.30) rotate(-90) scale(0.95,1)" font-size="23.8" text-anchor="end" fill="#000">WT</text>
<text transform="translate(678.60,409.30) rotate(-90) scale(0.95,1)" font-size="23.8" text-anchor="end" fill="#000">N290Q</text>
<text transform="translate(712.10,409.30) rotate(-90) scale(0.95,1)" font-size="23.8" text-anchor="end" fill="#000">N445Q</text>
<text transform="translate(745.40,409.30) rotate(-90) scale(0.95,1)" font-size="23.8" text-anchor="end" fill="#000">N473Q</text>
<text transform="translate(778.80,409.30) rotate(-90) scale(0.95,1)" font-size="23.8" text-anchor="end" fill="#000">N561Q</text>
<text transform="translate(620.30,170.50)" font-size="23.3" text-anchor="start" fill="#000">Asymmetry (a/b)</text>
<text transform="translate(593.40,301.10) rotate(-90)" font-size="19.5" text-anchor="middle" fill="#000">Asymmetry</text>
<text transform="translate(661.17,222.07)" font-size="37" text-anchor="start" font-weight="bold" fill="#000">*</text>
<polygon points="702.30,194.00 704.80,194.00 701.60,210.80 699.10,210.80" fill="#000"/>
<polygon points="707.50,194.00 710.00,194.00 706.90,210.80 704.40,210.80" fill="#000"/>
<polygon points="698.20,197.90 710.90,197.90 710.90,200.60 698.20,200.60" fill="#000"/>
<polygon points="698.20,203.70 710.90,203.70 710.90,206.40 698.20,206.40" fill="#000"/>
<polygon points="735.40,194.00 737.90,194.00 734.70,210.80 732.20,210.80" fill="#000"/>
<polygon points="740.60,194.00 743.10,194.00 740.00,210.80 737.50,210.80" fill="#000"/>
<polygon points="731.30,197.90 744.00,197.90 744.00,200.60 731.30,200.60" fill="#000"/>
<polygon points="731.30,203.70 744.00,203.70 744.00,206.40 731.30,206.40" fill="#000"/>
<rect x="78.3" y="596.6" width="378.50" height="51" fill="none" stroke="#2a2a2a" stroke-width="1.8"/>
<line x1="78.30" y1="622.20" x2="456.80" y2="622.20" stroke="#2a2a2a" stroke-width="1.8"/>
<line x1="116.15" y1="596.60" x2="116.15" y2="647.60" stroke="#2a2a2a" stroke-width="1.8"/>
<line x1="154.00" y1="596.60" x2="154.00" y2="647.60" stroke="#2a2a2a" stroke-width="1.8"/>
<line x1="191.85" y1="596.60" x2="191.85" y2="647.60" stroke="#2a2a2a" stroke-width="1.8"/>
<line x1="229.70" y1="596.60" x2="229.70" y2="647.60" stroke="#2a2a2a" stroke-width="1.8"/>
<line x1="267.55" y1="596.60" x2="267.55" y2="647.60" stroke="#2a2a2a" stroke-width="1.8"/>
<line x1="305.40" y1="596.60" x2="305.40" y2="647.60" stroke="#2a2a2a" stroke-width="1.8"/>
<line x1="343.25" y1="596.60" x2="343.25" y2="647.60" stroke="#2a2a2a" stroke-width="1.8"/>
<line x1="381.10" y1="596.60" x2="381.10" y2="647.60" stroke="#2a2a2a" stroke-width="1.8"/>
<line x1="418.95" y1="596.60" x2="418.95" y2="647.60" stroke="#2a2a2a" stroke-width="1.8"/>
<line x1="82.60" y1="590.00" x2="148.50" y2="590.00" stroke="#000" stroke-width="3.2"/>
<text transform="translate(116.95,0.00)" font-size="1" text-anchor="start" fill="#000"></text>
<line x1="158.30" y1="590.00" x2="224.20" y2="590.00" stroke="#000" stroke-width="3.2"/>
<text transform="translate(192.65,0.00)" font-size="1" text-anchor="start" fill="#000"></text>
<line x1="234.00" y1="590.00" x2="299.90" y2="590.00" stroke="#000" stroke-width="3.2"/>
<text transform="translate(268.35,0.00)" font-size="1" text-anchor="start" fill="#000"></text>
<line x1="309.70" y1="590.00" x2="375.60" y2="590.00" stroke="#000" stroke-width="3.2"/>
<text transform="translate(344.05,0.00)" font-size="1" text-anchor="start" fill="#000"></text>
<line x1="385.40" y1="590.00" x2="451.30" y2="590.00" stroke="#000" stroke-width="3.2"/>
<text transform="translate(419.75,0.00)" font-size="1" text-anchor="start" fill="#000"></text>
<text transform="translate(97.22,616.85)" font-size="23" text-anchor="middle" fill="#000">+</text>
<text transform="translate(135.07,643.05)" font-size="23" text-anchor="middle" fill="#000">+</text>
<text transform="translate(172.93,616.85)" font-size="23" text-anchor="middle" fill="#000">+</text>
<text transform="translate(210.78,643.05)" font-size="23" text-anchor="middle" fill="#000">+</text>
<text transform="translate(248.62,616.85)" font-size="23" text-anchor="middle" fill="#000">+</text>
<text transform="translate(286.48,643.05)" font-size="23" text-anchor="middle" fill="#000">+</text>
<text transform="translate(324.33,616.85)" font-size="23" text-anchor="middle" fill="#000">+</text>
<text transform="translate(362.18,643.05)" font-size="23" text-anchor="middle" fill="#000">+</text>
<text transform="translate(400.03,616.85)" font-size="23" text-anchor="middle" fill="#000">+</text>
<text transform="translate(437.88,643.05)" font-size="23" text-anchor="middle" fill="#000">+</text>
<text transform="translate(72.30,615.70)" font-size="23.6" text-anchor="end" fill="#000">Mock</text>
<text transform="translate(72.80,642.00)" font-size="23.6" text-anchor="end" fill="#000">EndoH</text>
<text transform="translate(116.20,581.75) rotate(-45)" font-size="22.7" text-anchor="start" fill="#000">WT</text>
<text transform="translate(191.93,581.80) rotate(-45)" font-size="22.7" text-anchor="start" fill="#000">N290Q</text>
<text transform="translate(267.03,581.80) rotate(-45)" font-size="22.7" text-anchor="start" fill="#000">N445Q</text>
<text transform="translate(342.63,581.80) rotate(-45)" font-size="22.7" text-anchor="start" fill="#000">N473Q</text>
<text transform="translate(418.23,581.80) rotate(-45)" font-size="22.7" text-anchor="start" fill="#000">N561Q</text>
<rect x="73.3" y="656.4" width="396" height="204.8" fill="none" stroke="#222" stroke-width="1.3"/>
<line x1="61.00" y1="674.80" x2="71.00" y2="674.80" stroke="#000" stroke-width="1.8"/>
<text transform="translate(59.10,685.60)" font-size="20.4" text-anchor="end" fill="#000">250</text>
<line x1="61.00" y1="718.00" x2="71.00" y2="718.00" stroke="#000" stroke-width="1.8"/>
<text transform="translate(59.10,725.20)" font-size="20.4" text-anchor="end" fill="#000">150</text>
<line x1="61.00" y1="766.40" x2="71.00" y2="766.40" stroke="#000" stroke-width="1.8"/>
<text transform="translate(59.10,773.60)" font-size="20.4" text-anchor="end" fill="#000">100</text>
<line x1="61.00" y1="807.50" x2="71.00" y2="807.50" stroke="#000" stroke-width="1.8"/>
<text transform="translate(59.10,814.70)" font-size="20.4" text-anchor="end" fill="#000">75</text>
<text transform="translate(23.00,663.70)" font-size="20" text-anchor="start" fill="#000">kDa</text>
<rect x="477.10" y="666.80" width="3.10" height="47.00" fill="#000"/>
<polygon points="472.2,710.6 478.65,712.8 485.1,710.6 478.65,725.0" fill="#000"/>
<rect x="85.75" y="657.00" width="24.50" height="43.00" fill="url(#g10)" filter="url(#lb)"/>
<rect x="124.20" y="657.00" width="25.00" height="53.00" fill="url(#g11)" filter="url(#lb)"/>
<rect x="163.25" y="657.00" width="23.50" height="44.50" fill="url(#g12)" filter="url(#lb)"/>
<rect x="198.95" y="657.00" width="22.50" height="53.50" fill="url(#g13)" filter="url(#lb)"/>
<rect x="235.75" y="657.00" width="24.50" height="48.50" fill="url(#g14)" filter="url(#lb)"/>
<rect x="273.55" y="657.00" width="23.50" height="56.50" fill="url(#g15)" filter="url(#lb)"/>
<rect x="310.05" y="657.00" width="24.50" height="47.50" fill="url(#g16)" filter="url(#lb)"/>
<rect x="349.35" y="657.00" width="24.50" height="58.00" fill="url(#g17)" filter="url(#lb)"/>
<rect x="387.00" y="657.00" width="26.00" height="48.50" fill="url(#g18)" filter="url(#lb)"/>
<rect x="427.80" y="657.00" width="26.00" height="56.00" fill="url(#g19)" filter="url(#lb)"/>
<rect x="84.40" y="781.00" width="25.00" height="12.00" fill="url(#g20)" filter="url(#lb)"/>
<rect x="123.30" y="798.00" width="25.00" height="12.00" fill="url(#g21)" filter="url(#lb)"/>
<rect x="162.30" y="785.90" width="25.00" height="12.00" fill="url(#g22)" filter="url(#lb)"/>
<rect x="198.80" y="799.00" width="25.00" height="12.00" fill="url(#g23)" filter="url(#lb)"/>
<rect x="236.20" y="785.90" width="25.00" height="12.00" fill="url(#g24)" filter="url(#lb)"/>
<rect x="274.20" y="799.00" width="25.00" height="12.00" fill="url(#g25)" filter="url(#lb)"/>
<rect x="311.70" y="784.00" width="25.00" height="12.00" fill="url(#g26)" filter="url(#lb)"/>
<rect x="349.60" y="798.50" width="25.00" height="12.00" fill="url(#g27)" filter="url(#lb)"/>
<rect x="388.50" y="784.00" width="25.00" height="12.00" fill="url(#g28)" filter="url(#lb)"/>
<rect x="429.90" y="799.00" width="25.00" height="12.00" fill="url(#g29)" filter="url(#lb)"/>
<text transform="translate(519.00,557.20)" font-size="23" text-anchor="start" fill="#000">WT</text>
<text transform="translate(518.10,631.50)" font-size="23.3" text-anchor="start" fill="#000">N290Q</text>
<text transform="translate(518.10,705.00)" font-size="23.3" text-anchor="start" fill="#000">N445Q</text>
<text transform="translate(518.10,778.90)" font-size="23.3" text-anchor="start" fill="#000">N473Q</text>
<text transform="translate(518.10,852.40)" font-size="23.3" text-anchor="start" fill="#000">N561Q</text>
<line x1="671.90" y1="527.70" x2="689.60" y2="527.70" stroke="#A0A0A0" stroke-width="2.4"/>
<line x1="671.90" y1="549.40" x2="689.60" y2="549.40" stroke="#000" stroke-width="2.4"/>
<text transform="translate(692.60,532.60)" font-size="23" text-anchor="start" fill="#000">mock</text>
<text transform="translate(691.80,557.20)" font-size="23.3" text-anchor="start" fill="#000">EndoH</text>
<line x1="608.80" y1="523.90" x2="608.80" y2="586.30" stroke="#888" stroke-width="1.4" stroke-dasharray="2.5,2.5"/>
<path d="M579.90,566.60 C580.98,565.92 584.48,564.00 586.40,562.50 C588.32,561.00 589.75,559.23 591.40,557.60 C593.05,555.97 594.38,555.43 596.30,552.70 C598.22,549.97 600.98,544.08 602.90,541.20 C604.82,538.32 605.33,535.82 607.80,535.40 C610.27,534.98 614.97,539.38 617.70,538.70 C620.43,538.02 622.02,533.90 624.20,531.30 C626.38,528.70 628.88,523.10 630.80,523.10 C632.72,523.10 634.05,525.55 635.70,531.30 C637.35,537.05 638.78,549.93 640.70,557.60 C642.62,565.27 644.73,572.65 647.20,577.30 C649.67,581.95 651.93,583.72 655.50,585.50 C659.07,587.28 663.68,587.45 668.60,588.00 C673.52,588.55 682.27,588.67 685.00,588.80" fill="none" stroke="#A0A0A0" stroke-width="2.6" stroke-linejoin="round" stroke-linecap="round"/>
<path d="M579.90,578.10 C580.98,578.25 583.40,579.82 586.40,579.00 C589.40,578.18 595.15,575.67 597.90,573.20 C600.65,570.73 601.12,566.93 602.90,564.20 C604.68,561.47 606.42,556.80 608.60,556.80 C610.78,556.80 613.53,562.28 616.00,564.20 C618.47,566.12 620.67,568.30 623.40,568.30 C626.13,568.30 629.80,566.53 632.40,564.20 C635.00,561.87 636.67,557.45 639.00,554.30 C641.33,551.15 644.20,545.85 646.40,545.30 C648.60,544.75 650.15,547.58 652.20,551.00 C654.25,554.42 656.23,560.87 658.70,565.80 C661.17,570.73 664.25,577.03 667.00,580.60 C669.75,584.17 672.05,585.83 675.20,587.20 C678.35,588.57 684.12,588.53 685.90,588.80" fill="none" stroke="#000" stroke-width="2.6" stroke-linejoin="round" stroke-linecap="round"/>
<line x1="618.10" y1="595.60" x2="618.10" y2="665.00" stroke="#888" stroke-width="1.4" stroke-dasharray="2.5,2.5"/>
<path d="M579.70,647.70 C580.90,646.63 584.50,643.38 586.90,641.30 C589.30,639.22 591.70,636.82 594.10,635.20 C596.50,633.58 598.90,634.20 601.30,631.60 C603.70,629.00 606.10,623.20 608.50,619.60 C610.90,616.00 613.70,611.80 615.70,610.00 C617.70,608.20 618.90,609.00 620.50,608.80 C622.10,608.60 623.30,610.08 625.30,608.80 C627.30,607.52 630.50,601.50 632.50,601.10 C634.50,600.70 635.70,601.92 637.30,606.40 C638.90,610.88 640.10,620.78 642.10,628.00 C644.10,635.22 646.50,644.08 649.30,649.70 C652.10,655.32 652.88,659.10 658.90,661.70 C664.92,664.30 680.98,664.70 685.40,665.30" fill="none" stroke="#A0A0A0" stroke-width="2.6" stroke-linejoin="round" stroke-linecap="round"/>
<path d="M579.70,655.70 C582.10,654.70 590.50,651.50 594.10,649.70 C597.70,647.90 598.90,647.52 601.30,644.90 C603.70,642.28 605.70,637.42 608.50,634.00 C611.30,630.58 614.50,624.20 618.10,624.40 C621.70,624.60 626.50,635.20 630.10,635.20 C633.70,635.20 636.90,627.60 639.70,624.40 C642.50,621.20 644.50,616.00 646.90,616.00 C649.30,616.00 651.70,619.58 654.10,624.40 C656.50,629.22 658.50,638.88 661.30,644.90 C664.10,650.92 666.88,657.10 670.90,660.50 C674.92,663.90 682.98,664.50 685.40,665.30" fill="none" stroke="#000" stroke-width="2.6" stroke-linejoin="round" stroke-linecap="round"/>
<line x1="618.10" y1="674.40" x2="618.10" y2="736.90" stroke="#888" stroke-width="1.4" stroke-dasharray="2.5,2.5"/>
<path d="M579.70,732.50 C581.30,731.83 586.10,730.37 589.30,728.50 C592.50,726.63 595.70,723.10 598.90,721.30 C602.10,719.50 605.30,719.32 608.50,717.70 C611.70,716.08 615.30,714.42 618.10,711.60 C620.90,708.78 622.50,705.48 625.30,700.80 C628.10,696.12 632.30,685.10 634.90,683.50 C637.50,681.90 638.90,686.72 640.90,691.20 C642.90,695.68 644.70,704.18 646.90,710.40 C649.10,716.62 651.30,723.48 654.10,728.50 C656.90,733.52 658.48,737.98 663.70,740.50 C668.92,743.02 681.78,743.08 685.40,743.60" fill="none" stroke="#A0A0A0" stroke-width="2.6" stroke-linejoin="round" stroke-linecap="round"/>
<path d="M579.70,735.70 C581.70,735.10 587.30,734.10 591.70,732.10 C596.10,730.10 601.70,726.52 606.10,723.70 C610.50,720.88 614.50,717.02 618.10,715.20 C621.70,713.38 624.90,714.40 627.70,712.80 C630.50,711.20 632.50,709.60 634.90,705.60 C637.30,701.60 640.10,693.28 642.10,688.80 C644.10,684.32 644.90,678.70 646.90,678.70 C648.90,678.70 651.70,682.72 654.10,688.80 C656.50,694.88 658.90,707.58 661.30,715.20 C663.70,722.82 665.70,729.88 668.50,734.50 C671.30,739.12 675.28,741.38 678.10,742.90 C680.92,744.42 684.18,743.48 685.40,743.60" fill="none" stroke="#000" stroke-width="2.6" stroke-linejoin="round" stroke-linecap="round"/>
<line x1="621.70" y1="750.80" x2="621.70" y2="813.30" stroke="#888" stroke-width="1.4" stroke-dasharray="2.5,2.5"/>
<path d="M579.70,809.70 C581.70,807.70 588.10,800.72 591.70,797.70 C595.30,794.68 598.10,793.82 601.30,791.60 C604.50,789.38 607.70,787.40 610.90,784.40 C614.10,781.40 617.70,777.40 620.50,773.60 C623.30,769.80 625.70,764.48 627.70,761.60 C629.70,758.72 630.70,755.90 632.50,756.30 C634.30,756.70 636.50,758.72 638.50,764.00 C640.50,769.28 642.30,780.38 644.50,788.00 C646.70,795.62 648.90,804.48 651.70,809.70 C654.50,814.92 655.68,817.50 661.30,819.30 C666.92,821.10 681.38,820.30 685.40,820.50" fill="none" stroke="#A0A0A0" stroke-width="2.6" stroke-linejoin="round" stroke-linecap="round"/>
<path d="M579.70,810.10 C581.30,809.03 586.10,805.77 589.30,803.70 C592.50,801.63 595.70,800.32 598.90,797.70 C602.10,795.08 605.70,791.22 608.50,788.00 C611.30,784.78 613.50,781.40 615.70,778.40 C617.90,775.40 619.70,771.00 621.70,770.00 C623.70,769.00 625.50,771.07 627.70,772.40 C629.90,773.73 632.50,778.20 634.90,778.00 C637.30,777.80 639.90,773.65 642.10,771.20 C644.30,768.75 646.10,762.90 648.10,763.30 C650.10,763.70 651.90,767.87 654.10,773.60 C656.30,779.33 658.90,791.28 661.30,797.70 C663.70,804.12 665.70,808.42 668.50,812.10 C671.30,815.78 675.28,818.40 678.10,819.80 C680.92,821.20 684.18,820.38 685.40,820.50" fill="none" stroke="#000" stroke-width="2.6" stroke-linejoin="round" stroke-linecap="round"/>
<line x1="611.30" y1="829.70" x2="611.30" y2="891.70" stroke="#888" stroke-width="1.4" stroke-dasharray="2.5,2.5"/>
<path d="M579.80,876.60 C580.92,875.72 583.90,873.50 586.50,871.30 C589.10,869.10 592.15,865.60 595.40,863.40 C598.65,861.20 603.05,859.58 606.00,858.10 C608.95,856.62 610.45,855.83 613.10,854.50 C615.75,853.17 619.53,852.02 621.90,850.10 C624.27,848.18 625.37,845.80 627.30,843.00 C629.23,840.20 631.73,834.48 633.50,833.30 C635.27,832.12 636.28,832.80 637.90,835.90 C639.52,839.00 641.43,845.70 643.20,851.90 C644.97,858.10 646.43,866.92 648.50,873.10 C650.57,879.28 652.65,885.02 655.60,889.00 C658.55,892.98 661.18,895.43 666.20,897.00 C671.22,898.57 682.45,898.17 685.70,898.40" fill="none" stroke="#A0A0A0" stroke-width="2.6" stroke-linejoin="round" stroke-linecap="round"/>
<path d="M579.80,874.90 C581.52,874.15 586.92,873.07 590.10,870.40 C593.28,867.73 596.55,862.58 598.90,858.90 C601.25,855.22 601.98,851.25 604.20,848.30 C606.42,845.35 609.83,840.90 612.20,841.20 C614.57,841.50 615.88,846.40 618.40,850.10 C620.92,853.80 624.65,862.67 627.30,863.40 C629.95,864.13 631.80,858.93 634.30,854.50 C636.80,850.07 639.93,838.72 642.30,836.80 C644.67,834.88 646.28,838.13 648.50,843.00 C650.72,847.87 653.23,858.62 655.60,866.00 C657.97,873.38 660.35,882.28 662.70,887.30 C665.05,892.32 665.87,894.25 669.70,896.10 C673.53,897.95 683.03,898.02 685.70,898.40" fill="none" stroke="#000" stroke-width="2.6" stroke-linejoin="round" stroke-linecap="round"/>
<rect x="84.50" y="1017.10" width="22.00" height="168.60" fill="#A5A5A5"/>
<rect x="118.60" y="1034.00" width="22.00" height="151.70" fill="#FF8C00"/>
<rect x="152.80" y="1098.50" width="22.00" height="87.20" fill="#46DC00"/>
<rect x="186.90" y="1038.80" width="22.00" height="146.90" fill="#00B4FA"/>
<rect x="221.00" y="1025.20" width="22.00" height="160.50" fill="#EE00F4"/>
<line x1="78.90" y1="983.70" x2="78.90" y2="1186.60" stroke="#000" stroke-width="1.8"/>
<line x1="72.60" y1="1185.70" x2="249.40" y2="1185.70" stroke="#000" stroke-width="1.8"/>
<line x1="72.60" y1="1185.70" x2="78.90" y2="1185.70" stroke="#000" stroke-width="1.8"/>
<text transform="translate(71.20,1188.55) scale(0.95,1)" font-size="18.5" text-anchor="end" fill="#000">0.0</text>
<line x1="72.60" y1="1152.00" x2="78.90" y2="1152.00" stroke="#000" stroke-width="1.8"/>
<text transform="translate(71.20,1155.38) scale(0.95,1)" font-size="18.5" text-anchor="end" fill="#000">0.2</text>
<line x1="72.60" y1="1118.30" x2="78.90" y2="1118.30" stroke="#000" stroke-width="1.8"/>
<text transform="translate(71.20,1122.21) scale(0.95,1)" font-size="18.5" text-anchor="end" fill="#000">0.4</text>
<line x1="72.60" y1="1084.60" x2="78.90" y2="1084.60" stroke="#000" stroke-width="1.8"/>
<text transform="translate(71.20,1089.04) scale(0.95,1)" font-size="18.5" text-anchor="end" fill="#000">0.6</text>
<line x1="72.60" y1="1050.90" x2="78.90" y2="1050.90" stroke="#000" stroke-width="1.8"/>
<text transform="translate(71.20,1055.87) scale(0.95,1)" font-size="18.5" text-anchor="end" fill="#000">0.8</text>
<line x1="72.60" y1="1017.20" x2="78.90" y2="1017.20" stroke="#000" stroke-width="1.8"/>
<text transform="translate(71.20,1022.70) scale(0.95,1)" font-size="18.5" text-anchor="end" fill="#000">1.0</text>
<line x1="72.60" y1="983.50" x2="78.90" y2="983.50" stroke="#000" stroke-width="1.8"/>
<text transform="translate(71.20,989.53) scale(0.95,1)" font-size="18.5" text-anchor="end" fill="#000">1.2</text>
<line x1="95.50" y1="1185.70" x2="95.50" y2="1191.90" stroke="#000" stroke-width="1.8"/>
<line x1="129.60" y1="1185.70" x2="129.60" y2="1191.90" stroke="#000" stroke-width="1.8"/>
<line x1="163.80" y1="1185.70" x2="163.80" y2="1191.90" stroke="#000" stroke-width="1.8"/>
<line x1="197.90" y1="1185.70" x2="197.90" y2="1191.90" stroke="#000" stroke-width="1.8"/>
<line x1="232.00" y1="1185.70" x2="232.00" y2="1191.90" stroke="#000" stroke-width="1.8"/>
<circle cx="90.10" cy="1017.30" r="3.9" fill="none" stroke="#000" stroke-width="1.8"/>
<circle cx="95.60" cy="1017.30" r="3.9" fill="none" stroke="#000" stroke-width="1.8"/>
<circle cx="101.80" cy="1017.30" r="3.9" fill="none" stroke="#000" stroke-width="1.8"/>
<line x1="129.60" y1="1018.10" x2="129.60" y2="1050.10" stroke="#000" stroke-width="2.2"/>
<line x1="123.30" y1="1018.10" x2="135.90" y2="1018.10" stroke="#000" stroke-width="2.2"/>
<line x1="123.30" y1="1050.10" x2="135.90" y2="1050.10" stroke="#000" stroke-width="2.2"/>
<circle cx="122.90" cy="1021.50" r="3.9" fill="none" stroke="#000" stroke-width="1.8"/>
<circle cx="129.60" cy="1028.40" r="3.9" fill="none" stroke="#000" stroke-width="1.8"/>
<circle cx="129.60" cy="1052.10" r="3.9" fill="none" stroke="#000" stroke-width="1.8"/>
<line x1="163.70" y1="1082.80" x2="163.70" y2="1115.10" stroke="#000" stroke-width="2.2"/>
<line x1="157.40" y1="1082.80" x2="170.00" y2="1082.80" stroke="#000" stroke-width="2.2"/>
<line x1="157.40" y1="1115.10" x2="170.00" y2="1115.10" stroke="#000" stroke-width="2.2"/>
<circle cx="163.70" cy="1080.20" r="3.9" fill="none" stroke="#000" stroke-width="1.8"/>
<circle cx="170.00" cy="1103.50" r="3.9" fill="none" stroke="#000" stroke-width="1.8"/>
<circle cx="163.70" cy="1111.80" r="3.9" fill="none" stroke="#000" stroke-width="1.8"/>
<line x1="198.00" y1="1012.30" x2="198.00" y2="1065.10" stroke="#000" stroke-width="2.2"/>
<line x1="191.70" y1="1012.30" x2="204.30" y2="1012.30" stroke="#000" stroke-width="2.2"/>
<line x1="191.70" y1="1065.10" x2="204.30" y2="1065.10" stroke="#000" stroke-width="2.2"/>
<circle cx="191.60" cy="1021.50" r="3.9" fill="none" stroke="#000" stroke-width="1.8"/>
<circle cx="198.00" cy="1025.60" r="3.9" fill="none" stroke="#000" stroke-width="1.8"/>
<circle cx="198.00" cy="1068.70" r="3.9" fill="none" stroke="#000" stroke-width="1.8"/>
<line x1="231.90" y1="986.70" x2="231.90" y2="1063.20" stroke="#000" stroke-width="2.2"/>
<line x1="225.60" y1="986.70" x2="238.20" y2="986.70" stroke="#000" stroke-width="2.2"/>
<line x1="225.60" y1="1063.20" x2="238.20" y2="1063.20" stroke="#000" stroke-width="2.2"/>
<circle cx="225.80" cy="999.20" r="3.9" fill="none" stroke="#000" stroke-width="1.8"/>
<circle cx="231.90" cy="1006.20" r="3.9" fill="none" stroke="#000" stroke-width="1.8"/>
<circle cx="231.90" cy="1068.70" r="3.9" fill="none" stroke="#000" stroke-width="1.8"/>
<text transform="translate(104.30,1194.20) rotate(-90) scale(0.95,1)" font-size="23.8" text-anchor="end" fill="#000">WT</text>
<text transform="translate(138.40,1194.20) rotate(-90) scale(0.95,1)" font-size="23.8" text-anchor="end" fill="#000">N290Q</text>
<text transform="translate(172.60,1194.20) rotate(-90) scale(0.95,1)" font-size="23.8" text-anchor="end" fill="#000">N445Q</text>
<text transform="translate(206.70,1194.20) rotate(-90) scale(0.95,1)" font-size="23.8" text-anchor="end" fill="#000">N473Q</text>
<text transform="translate(240.80,1194.20) rotate(-90) scale(0.95,1)" font-size="23.8" text-anchor="end" fill="#000">N561Q</text>
<text transform="translate(101.50,951.20)" font-size="23.3" text-anchor="start" fill="#000">Width (a+b)</text>
<text transform="translate(39.30,1076.60) rotate(-90)" font-size="19.5" text-anchor="middle" fill="#000">FWHM, rel. to WT</text>
<text transform="translate(156.57,1002.47)" font-size="37" text-anchor="start" font-weight="bold" fill="#000">*</text>
<rect x="318.70" y="1035.00" width="22.00" height="150.40" fill="#A5A5A5"/>
<rect x="352.80" y="1045.90" width="22.00" height="139.50" fill="#FF8C00"/>
<rect x="386.70" y="1108.80" width="22.00" height="76.60" fill="#46DC00"/>
<rect x="420.80" y="1043.80" width="22.00" height="141.60" fill="#00B4FA"/>
<rect x="455.00" y="1021.30" width="22.00" height="164.10" fill="#EE00F4"/>
<line x1="312.40" y1="983.20" x2="312.40" y2="1186.30" stroke="#000" stroke-width="1.8"/>
<line x1="306.10" y1="1185.40" x2="483.50" y2="1185.40" stroke="#000" stroke-width="1.8"/>
<line x1="306.10" y1="1185.40" x2="312.40" y2="1185.40" stroke="#000" stroke-width="1.8"/>
<text transform="translate(305.30,1188.25) scale(0.95,1)" font-size="18.5" text-anchor="end" fill="#000">0</text>
<line x1="306.10" y1="1144.96" x2="312.40" y2="1144.96" stroke="#000" stroke-width="1.8"/>
<text transform="translate(305.30,1148.65) scale(0.95,1)" font-size="18.5" text-anchor="end" fill="#000">1</text>
<line x1="306.10" y1="1104.52" x2="312.40" y2="1104.52" stroke="#000" stroke-width="1.8"/>
<text transform="translate(305.30,1109.05) scale(0.95,1)" font-size="18.5" text-anchor="end" fill="#000">2</text>
<line x1="306.10" y1="1064.08" x2="312.40" y2="1064.08" stroke="#000" stroke-width="1.8"/>
<text transform="translate(305.30,1069.45) scale(0.95,1)" font-size="18.5" text-anchor="end" fill="#000">3</text>
<line x1="306.10" y1="1023.64" x2="312.40" y2="1023.64" stroke="#000" stroke-width="1.8"/>
<text transform="translate(305.30,1029.85) scale(0.95,1)" font-size="18.5" text-anchor="end" fill="#000">4</text>
<line x1="306.10" y1="983.20" x2="312.40" y2="983.20" stroke="#000" stroke-width="1.8"/>
<text transform="translate(305.30,990.25) scale(0.95,1)" font-size="18.5" text-anchor="end" fill="#000">5</text>
<line x1="329.70" y1="1185.40" x2="329.70" y2="1191.60" stroke="#000" stroke-width="1.8"/>
<line x1="363.80" y1="1185.40" x2="363.80" y2="1191.60" stroke="#000" stroke-width="1.8"/>
<line x1="397.70" y1="1185.40" x2="397.70" y2="1191.60" stroke="#000" stroke-width="1.8"/>
<line x1="431.80" y1="1185.40" x2="431.80" y2="1191.60" stroke="#000" stroke-width="1.8"/>
<line x1="466.00" y1="1185.40" x2="466.00" y2="1191.60" stroke="#000" stroke-width="1.8"/>
<line x1="329.20" y1="1020.60" x2="329.20" y2="1049.10" stroke="#000" stroke-width="2.2"/>
<line x1="322.90" y1="1020.60" x2="335.50" y2="1020.60" stroke="#000" stroke-width="2.2"/>
<line x1="322.90" y1="1049.10" x2="335.50" y2="1049.10" stroke="#000" stroke-width="2.2"/>
<circle cx="322.90" cy="1023.90" r="3.9" fill="none" stroke="#000" stroke-width="1.8"/>
<circle cx="329.20" cy="1029.40" r="3.9" fill="none" stroke="#000" stroke-width="1.8"/>
<circle cx="329.20" cy="1051.40" r="3.9" fill="none" stroke="#000" stroke-width="1.8"/>
<line x1="363.80" y1="1035.00" x2="363.80" y2="1057.20" stroke="#000" stroke-width="2.2"/>
<line x1="357.50" y1="1035.00" x2="370.10" y2="1035.00" stroke="#000" stroke-width="2.2"/>
<line x1="357.50" y1="1057.20" x2="370.10" y2="1057.20" stroke="#000" stroke-width="2.2"/>
<circle cx="363.80" cy="1033.70" r="3.9" fill="none" stroke="#000" stroke-width="1.8"/>
<circle cx="369.60" cy="1047.10" r="3.9" fill="none" stroke="#000" stroke-width="1.8"/>
<circle cx="363.80" cy="1056.00" r="3.9" fill="none" stroke="#000" stroke-width="1.8"/>
<line x1="397.50" y1="1085.80" x2="397.50" y2="1130.60" stroke="#000" stroke-width="2.2"/>
<line x1="391.20" y1="1085.80" x2="403.80" y2="1085.80" stroke="#000" stroke-width="2.2"/>
<line x1="391.20" y1="1130.60" x2="403.80" y2="1130.60" stroke="#000" stroke-width="2.2"/>
<circle cx="397.50" cy="1084.30" r="3.9" fill="none" stroke="#000" stroke-width="1.8"/>
<circle cx="397.50" cy="1111.60" r="3.9" fill="none" stroke="#000" stroke-width="1.8"/>
<circle cx="397.50" cy="1129.80" r="3.9" fill="none" stroke="#000" stroke-width="1.8"/>
<line x1="432.10" y1="1014.80" x2="432.10" y2="1072.90" stroke="#000" stroke-width="2.2"/>
<line x1="425.80" y1="1014.80" x2="438.40" y2="1014.80" stroke="#000" stroke-width="2.2"/>
<line x1="425.80" y1="1072.90" x2="438.40" y2="1072.90" stroke="#000" stroke-width="2.2"/>
<circle cx="432.10" cy="1012.50" r="3.9" fill="none" stroke="#000" stroke-width="1.8"/>
<circle cx="432.10" cy="1048.40" r="3.9" fill="none" stroke="#000" stroke-width="1.8"/>
<circle cx="432.10" cy="1069.90" r="3.9" fill="none" stroke="#000" stroke-width="1.8"/>
<line x1="465.70" y1="1001.10" x2="465.70" y2="1041.30" stroke="#000" stroke-width="2.2"/>
<line x1="459.40" y1="1001.10" x2="472.00" y2="1001.10" stroke="#000" stroke-width="2.2"/>
<line x1="459.40" y1="1041.30" x2="472.00" y2="1041.30" stroke="#000" stroke-width="2.2"/>
<circle cx="459.90" cy="1008.40" r="3.9" fill="none" stroke="#000" stroke-width="1.8"/>
<circle cx="466.20" cy="1010.50" r="3.9" fill="none" stroke="#000" stroke-width="1.8"/>
<circle cx="465.70" cy="1043.30" r="3.9" fill="none" stroke="#000" stroke-width="1.8"/>
<text transform="translate(338.20,1194.20) rotate(-90) scale(0.95,1)" font-size="23.8" text-anchor="end" fill="#000">WT</text>
<text transform="translate(372.30,1194.20) rotate(-90) scale(0.95,1)" font-size="23.8" text-anchor="end" fill="#000">N290Q</text>
<text transform="translate(406.20,1194.20) rotate(-90) scale(0.95,1)" font-size="23.8" text-anchor="end" fill="#000">N445Q</text>
<text transform="translate(440.30,1194.20) rotate(-90) scale(0.95,1)" font-size="23.8" text-anchor="end" fill="#000">N473Q</text>
<text transform="translate(474.50,1194.20) rotate(-90) scale(0.95,1)" font-size="23.8" text-anchor="end" fill="#000">N561Q</text>
<text transform="translate(310.50,951.20)" font-size="23.3" text-anchor="start" fill="#000">Asymmetry (a/b)</text>
<text transform="translate(284.40,1066.70) rotate(-90)" font-size="19.5" text-anchor="middle" fill="#000">Asymmetry</text>
<text transform="translate(383.77,1001.97)" font-size="37" text-anchor="start" font-weight="bold" fill="#000">*</text>
<text transform="translate(397.37,1001.97)" font-size="37" text-anchor="start" font-weight="bold" fill="#000">*</text>
<rect x="563.80" y="1065.60" width="22.00" height="119.90" fill="#A5A5A5"/>
<rect x="597.50" y="1057.00" width="22.00" height="128.50" fill="#FF8C00"/>
<rect x="632.00" y="1097.90" width="22.00" height="87.60" fill="#46DC00"/>
<rect x="666.00" y="1044.60" width="22.00" height="140.90" fill="#00B4FA"/>
<rect x="700.00" y="1045.20" width="22.00" height="140.30" fill="#EE00F4"/>
<line x1="557.80" y1="983.50" x2="557.80" y2="1186.40" stroke="#000" stroke-width="1.8"/>
<line x1="551.50" y1="1185.50" x2="728.50" y2="1185.50" stroke="#000" stroke-width="1.8"/>
<line x1="551.50" y1="1185.50" x2="557.80" y2="1185.50" stroke="#000" stroke-width="1.8"/>
<text transform="translate(550.60,1189.35) scale(0.95,1)" font-size="18.5" text-anchor="end" fill="#000">0.0</text>
<line x1="551.50" y1="1135.00" x2="557.80" y2="1135.00" stroke="#000" stroke-width="1.8"/>
<text transform="translate(550.60,1138.70) scale(0.95,1)" font-size="18.5" text-anchor="end" fill="#000">0.2</text>
<line x1="551.50" y1="1084.50" x2="557.80" y2="1084.50" stroke="#000" stroke-width="1.8"/>
<text transform="translate(550.60,1088.05) scale(0.95,1)" font-size="18.5" text-anchor="end" fill="#000">0.4</text>
<line x1="551.50" y1="1034.00" x2="557.80" y2="1034.00" stroke="#000" stroke-width="1.8"/>
<text transform="translate(550.60,1037.40) scale(0.95,1)" font-size="18.5" text-anchor="end" fill="#000">0.6</text>
<line x1="551.50" y1="983.50" x2="557.80" y2="983.50" stroke="#000" stroke-width="1.8"/>
<text transform="translate(550.60,986.75) scale(0.95,1)" font-size="18.5" text-anchor="end" fill="#000">0.8</text>
<line x1="574.80" y1="1185.50" x2="574.80" y2="1191.70" stroke="#000" stroke-width="1.8"/>
<line x1="608.50" y1="1185.50" x2="608.50" y2="1191.70" stroke="#000" stroke-width="1.8"/>
<line x1="643.00" y1="1185.50" x2="643.00" y2="1191.70" stroke="#000" stroke-width="1.8"/>
<line x1="677.00" y1="1185.50" x2="677.00" y2="1191.70" stroke="#000" stroke-width="1.8"/>
<line x1="711.00" y1="1185.50" x2="711.00" y2="1191.70" stroke="#000" stroke-width="1.8"/>
<line x1="574.80" y1="1039.50" x2="574.80" y2="1091.50" stroke="#000" stroke-width="2.2"/>
<line x1="568.50" y1="1039.50" x2="581.10" y2="1039.50" stroke="#000" stroke-width="2.2"/>
<line x1="568.50" y1="1091.50" x2="581.10" y2="1091.50" stroke="#000" stroke-width="2.2"/>
<circle cx="574.80" cy="1035.30" r="3.9" fill="none" stroke="#000" stroke-width="1.8"/>
<circle cx="579.80" cy="1077.00" r="3.9" fill="none" stroke="#000" stroke-width="1.8"/>
<circle cx="574.80" cy="1084.00" r="3.9" fill="none" stroke="#000" stroke-width="1.8"/>
<line x1="608.50" y1="1045.00" x2="608.50" y2="1068.70" stroke="#000" stroke-width="2.2"/>
<line x1="602.20" y1="1045.00" x2="614.80" y2="1045.00" stroke="#000" stroke-width="2.2"/>
<line x1="602.20" y1="1068.70" x2="614.80" y2="1068.70" stroke="#000" stroke-width="2.2"/>
<circle cx="602.90" cy="1047.00" r="3.9" fill="none" stroke="#000" stroke-width="1.8"/>
<circle cx="608.50" cy="1053.90" r="3.9" fill="none" stroke="#000" stroke-width="1.8"/>
<circle cx="608.50" cy="1070.90" r="3.9" fill="none" stroke="#000" stroke-width="1.8"/>
<line x1="643.00" y1="1091.80" x2="643.00" y2="1102.10" stroke="#000" stroke-width="2.2"/>
<line x1="636.70" y1="1091.80" x2="649.30" y2="1091.80" stroke="#000" stroke-width="2.2"/>
<line x1="636.70" y1="1102.10" x2="649.30" y2="1102.10" stroke="#000" stroke-width="2.2"/>
<circle cx="637.40" cy="1092.90" r="3.9" fill="none" stroke="#000" stroke-width="1.8"/>
<circle cx="648.50" cy="1097.30" r="3.9" fill="none" stroke="#000" stroke-width="1.8"/>
<circle cx="643.00" cy="1104.00" r="3.9" fill="none" stroke="#000" stroke-width="1.8"/>
<line x1="677.20" y1="1032.00" x2="677.20" y2="1056.70" stroke="#000" stroke-width="2.2"/>
<line x1="670.90" y1="1032.00" x2="683.50" y2="1032.00" stroke="#000" stroke-width="2.2"/>
<line x1="670.90" y1="1056.70" x2="683.50" y2="1056.70" stroke="#000" stroke-width="2.2"/>
<circle cx="671.00" cy="1033.90" r="3.9" fill="none" stroke="#000" stroke-width="1.8"/>
<circle cx="677.20" cy="1040.00" r="3.9" fill="none" stroke="#000" stroke-width="1.8"/>
<circle cx="677.20" cy="1058.90" r="3.9" fill="none" stroke="#000" stroke-width="1.8"/>
<line x1="711.10" y1="1043.60" x2="711.10" y2="1047.00" stroke="#000" stroke-width="2.2"/>
<line x1="704.80" y1="1043.60" x2="717.40" y2="1043.60" stroke="#000" stroke-width="2.2"/>
<line x1="704.80" y1="1047.00" x2="717.40" y2="1047.00" stroke="#000" stroke-width="2.2"/>
<circle cx="705.00" cy="1042.80" r="3.9" fill="none" stroke="#000" stroke-width="1.8"/>
<circle cx="711.10" cy="1047.80" r="3.9" fill="none" stroke="#000" stroke-width="1.8"/>
<circle cx="717.50" cy="1045.60" r="3.9" fill="none" stroke="#000" stroke-width="1.8"/>
<text transform="translate(583.10,1194.20) rotate(-90) scale(0.95,1)" font-size="23.8" text-anchor="end" fill="#000">WT</text>
<text transform="translate(616.80,1194.20) rotate(-90) scale(0.95,1)" font-size="23.8" text-anchor="end" fill="#000">N290Q</text>
<text transform="translate(651.30,1194.20) rotate(-90) scale(0.95,1)" font-size="23.8" text-anchor="end" fill="#000">N445Q</text>
<text transform="translate(685.30,1194.20) rotate(-90) scale(0.95,1)" font-size="23.8" text-anchor="end" fill="#000">N473Q</text>
<text transform="translate(719.30,1194.20) rotate(-90) scale(0.95,1)" font-size="23.8" text-anchor="end" fill="#000">N561Q</text>
<text transform="translate(516.50,1064.30) rotate(-90)" font-size="19.5" text-anchor="middle" fill="#000">Rel. area</text>
<text transform="translate(572.10,950.40)" font-size="23.3" text-anchor="start" fill="#000">Fraction in</text>
<text transform="translate(587.50,973.50)" font-size="23.3" text-anchor="start" fill="#000">Band C</text>
<path d="M644.20,1014.10 C645.88,1013.42 650.60,1011.18 654.30,1010.00 C658.00,1008.82 662.70,1008.52 666.40,1007.00 C670.10,1005.48 673.47,1003.60 676.50,1000.90 C679.53,998.20 682.23,995.18 684.60,990.80 C686.97,986.42 689.02,979.83 690.70,974.60 C692.38,969.37 693.18,962.50 694.70,959.40 C696.22,956.30 697.95,956.17 699.80,956.00 C701.65,955.83 704.80,958.00 705.80,958.40 L705.8,1015.1 L644.2,1015.1 Z" fill="#BBBBBB" stroke="none"/>
<line x1="644.20" y1="1015.10" x2="776.40" y2="1015.10" stroke="#999" stroke-width="1.5"/>
<line x1="705.80" y1="958.50" x2="705.80" y2="1015.00" stroke="#000" stroke-width="1.6" stroke-dasharray="3,2.5"/>
<path d="M644.20,1014.10 C645.88,1013.42 650.60,1011.18 654.30,1010.00 C658.00,1008.82 662.70,1008.52 666.40,1007.00 C670.10,1005.48 673.47,1003.60 676.50,1000.90 C679.53,998.20 682.23,995.18 684.60,990.80 C686.97,986.42 689.02,979.83 690.70,974.60 C692.38,969.37 693.18,962.50 694.70,959.40 C696.22,956.30 697.95,956.17 699.80,956.00 C701.65,955.83 703.62,959.00 705.80,958.40 C707.98,957.80 710.70,955.10 712.90,952.40 C715.10,949.70 717.25,944.73 719.00,942.20 C720.75,939.67 722.05,937.20 723.40,937.20 C724.75,937.20 725.82,938.32 727.10,942.20 C728.38,946.08 729.42,953.42 731.10,960.50 C732.78,967.58 735.17,977.97 737.20,984.70 C739.23,991.43 740.93,996.35 743.30,1000.90 C745.67,1005.45 748.37,1009.80 751.40,1012.00 C754.43,1014.20 757.47,1013.58 761.50,1014.10 C765.53,1014.62 773.25,1014.93 775.60,1015.10" fill="none" stroke="#000" stroke-width="2.6" stroke-linejoin="round" stroke-linecap="round"/>
</svg>
</body></html>
